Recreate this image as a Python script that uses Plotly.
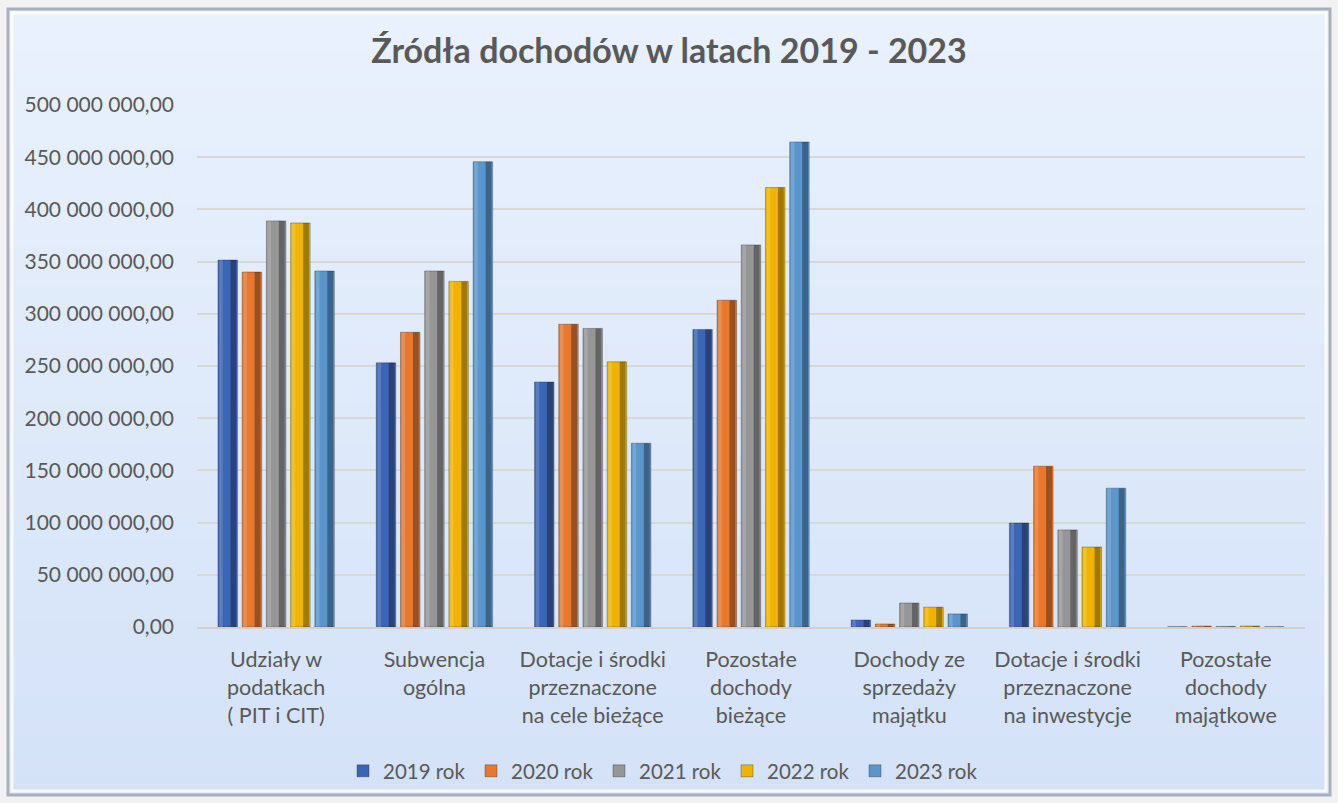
import plotly.graph_objects as go

# ---------------- data ----------------
categories = [
    "Udziały w<br>podatkach<br>( PIT i CIT)",
    "Subwencja<br>ogólna",
    "Dotacje i środki<br>przeznaczone<br>na cele bieżące",
    "Pozostałe<br>dochody<br>bieżące",
    "Dochody ze<br>sprzedaży<br>majątku",
    "Dotacje i środki<br>przeznaczone<br>na inwestycje",
    "Pozostałe<br>dochody<br>majątkowe",
]
years = ["2019 rok", "2020 rok", "2021 rok", "2022 rok", "2023 rok"]
v2019 = [351_500_000, 253_000_000, 234_700_000, 285_000_000, 6_700_000, 99_600_000, 200_000]
v2020 = [340_000_000, 282_300_000, 290_000_000, 313_000_000, 2_900_000, 154_000_000, 800_000]
v2021 = [389_000_000, 341_000_000, 286_000_000, 366_000_000, 23_000_000, 93_000_000, 500_000]
v2022 = [387_000_000, 331_000_000, 254_000_000, 421_000_000, 19_000_000, 76_600_000, 900_000]
v2023 = [341_000_000, 445_700_000, 176_000_000, 464_600_000, 12_500_000, 133_000_000, 200_000]
series = [v2019, v2020, v2021, v2022, v2023]
tick_values = [0, 50_000_000, 100_000_000, 150_000_000, 200_000_000, 250_000_000,
               300_000_000, 350_000_000, 400_000_000, 450_000_000, 500_000_000]
title_text = "Źródła dochodów w latach 2019 - 2023"


def pl_format(v):
    s = f"{v:,.2f}"
    return s.replace(",", " ").replace(".", ",")


tick_labels = [pl_format(v) for v in tick_values]

# ---------------- style ----------------
colors = ["#3b65b5", "#e8782e", "#969696", "#f0b400", "#5a95cc"]
W, H = 1338, 803
ML, MR, MT, MB = 197, 33, 105, 176
FONT = "Lato"
TXT = "#595959"

bar_w = 0.123
pitch = 0.153
x_idx = list(range(len(categories)))

fig = go.Figure()
for i, (name, vals, col) in enumerate(zip(years, series, colors)):
    center = (i - 2) * pitch
    off = center - bar_w / 2
    fig.add_trace(go.Bar(
        x=x_idx, y=vals, name=name, width=bar_w, offset=off,
        marker=dict(color=col, line=dict(color="rgba(40,40,40,0.35)", width=1)),
        showlegend=True,
    ))
    # light left strip
    fig.add_trace(go.Bar(
        x=x_idx, y=vals, width=bar_w * 0.18, offset=off + bar_w * 0.06,
        marker=dict(color="rgba(255,255,255,0.16)", line=dict(width=0)),
        showlegend=False, hoverinfo="skip",
    ))
    # dark right strip
    fig.add_trace(go.Bar(
        x=x_idx, y=vals, width=bar_w * 0.30, offset=off + bar_w * 0.64,
        marker=dict(color="rgba(0,0,0,0.33)", line=dict(width=0)),
        showlegend=False, hoverinfo="skip",
    ))

# background gradient in paper coords spanning whole figure
pw = W - ML - MR
ph = H - MT - MB
def px_x(p):
    return (p - ML) / pw
def px_y(p):
    return (H - MB - p) / ph

shapes = []
nb = 40
top_c = (233, 241, 253)
bot_c = (212, 226, 248)
for k in range(nb):
    t = k / (nb - 1)
    c = tuple(int(round(top_c[j] + (bot_c[j] - top_c[j]) * t)) for j in range(3))
    y0p = 10 + (785 / nb) * k
    y1p = 10 + (785 / nb) * (k + 1) + 1
    shapes.append(dict(type="rect", xref="paper", yref="paper", layer="below",
                       x0=px_x(10), x1=px_x(1328), y0=px_y(y1p), y1=px_y(y0p),
                       fillcolor=f"rgb{c}", line=dict(width=0)))
# frame
shapes.append(dict(type="rect", xref="paper", yref="paper", layer="below",
                   x0=px_x(8), x1=px_x(1330), y0=px_y(795), y1=px_y(9),
                   fillcolor="rgba(0,0,0,0)", line=dict(color="#a8b0bc", width=3)))
shapes.append(dict(type="rect", xref="paper", yref="paper", layer="below",
                   x0=px_x(12), x1=px_x(1326), y0=px_y(791), y1=px_y(13),
                   fillcolor="rgba(0,0,0,0)", line=dict(color="rgba(255,255,255,0.8)", width=3)))

fig.update_layout(
    width=W, height=H,
    margin=dict(l=ML, r=MR, t=MT, b=MB, pad=0),
    barmode="overlay",
    paper_bgcolor="#f2f2f2",
    plot_bgcolor="rgba(0,0,0,0)",
    font=dict(family=FONT, color=TXT, size=19),
    title=dict(text=f"<b>{title_text}</b>", x=669 / W, xanchor="center", xref="container",
               y=1 - 51 / H, yanchor="middle", yref="container",
               font=dict(family=FONT, size=34, color=TXT)),
    shapes=shapes,
    showlegend=True,
    legend=dict(orientation="h", x=px_x(343), xanchor="left",
                y=px_y(771), yanchor="middle",
                font=dict(family=FONT, size=20.5, color=TXT),
                bgcolor="rgba(0,0,0,0)", entrywidth=83, traceorder="normal"),
    hovermode=False,
)
fig.update_xaxes(
    tickmode="array", tickvals=x_idx, ticktext=categories,
    range=[-0.5, len(categories) - 0.5],
    showgrid=False, showline=True, linecolor="#d0d0d0", linewidth=2,
    ticks="", tickfont=dict(family=FONT, size=21.5, color=TXT),
    ticklabelstandoff=12,
)
fig.update_yaxes(
    range=[0, 500_000_000], tickmode="array", tickvals=tick_values, ticktext=tick_labels,
    showgrid=True, gridcolor="#d8d8d8", gridwidth=2, zeroline=False,
    showline=False, ticks="", tickfont=dict(family=FONT, size=21, color=TXT),
    ticklabelstandoff=22,
)

fig.write_html("out.html", post_script="document.body.style.margin='0';",
               config={"displayModeBar": False})
